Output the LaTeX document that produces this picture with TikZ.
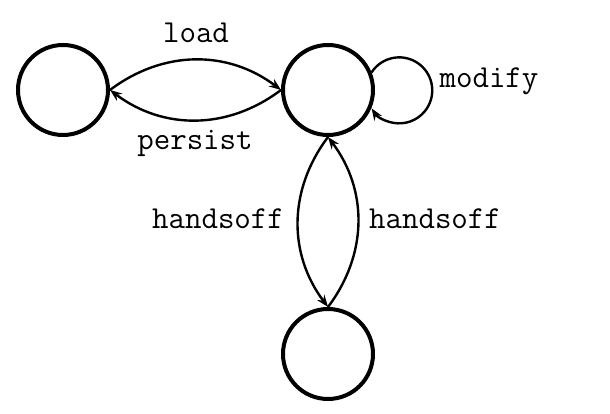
\documentclass[tikz,border=0pt]{standalone}
\usetikzlibrary{arrows.meta}
\begin{document}
\begin{tikzpicture}[x=1pt,y=1pt,
  state/.style={circle,draw,line width=4pt,minimum size=90pt,inner sep=0pt},
  edge/.style={line width=2.4pt,-{Stealth[length=12pt,width=9pt]}},
  lbl/.style={font=\ttfamily\fontsize{32}{32}\selectfont,inner sep=0pt}]
\useasboundingbox (0,0) rectangle (610,414);
\node[state] (L) at (63,324) {};
\node[state] (M) at (328,324) {};
\node[state] (B) at (328,60) {};
\draw[edge] (L.east) to[bend left=37] (M.west);
\draw[edge] (M.west) to[bend left=37] (L.east);
\draw[edge] (M.south) to[bend right=37] (B.north);
\draw[edge] (B.north) to[bend right=37] (M.south);
\draw[edge] (M.22) arc[start angle=147,end angle=-147,radius=33];
\node[lbl] (tload) at (196,381) {load};
\node[lbl] (tpersist) at (195,271) {persist};
\node[lbl] (tmodify) at (489,333) {modify};
\node[lbl] (th1) at (218,195) {handsoff};
\node[lbl] (th2) at (435,195) {handsoff};
\end{tikzpicture}
\end{document}
